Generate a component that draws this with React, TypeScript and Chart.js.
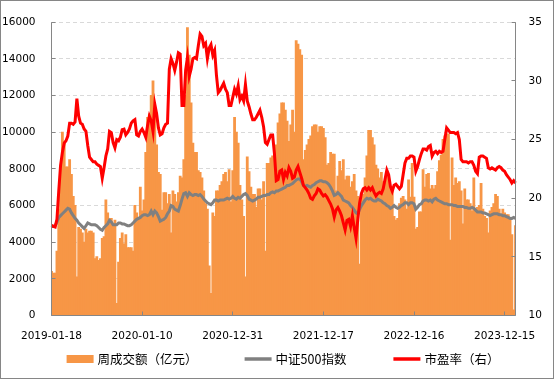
import React, { useEffect, useRef } from 'react';
import { Chart, registerables } from 'chart.js';

Chart.register(...registerables);

// x-axis tick labels, one every TICK_EVERY weekly categories
const TICK_LABELS = ['2019-01-18', '2020-01-10', '2020-12-31', '2021-12-17', '2022-12-16', '2023-12-15'];
const TICK_EVERY = 50;

const SERIES_NAMES = ['周成交额（亿元）', '中证500指数', '市盈率（右）'];

// 周成交额（亿元） — left axis
const VOLUME = [
  2400, 2300, 2300, 3500, 5800, 8000, 10000, 9500, 8100, 8100,
  8500, 7700, 6500, 6000, 2100, 4800, 4700, 4500, 4000, 4700,
  4500, 4600, 4600, 4500, 3100, 3200, 3000, 3100, 4200, 4300,
  6300, 5600, 5200, 5300, 5000, 5200, 650, 2900, 4200, 4500,
  3900, 4400, 3700, 3700, 3700, 3500, 6000, 5600, 5200, 7000,
  5700, 6300, 8900, 10800, 11000, 12000, 12800, 11000, 9300, 7800,
  7700, 5750, 6700, 6700, 6100, 6600, 4500, 6800, 6600, 6200,
  6700, 7600, 7500, 8500, 12000, 15700, 14200, 11600, 9400, 8900,
  8900, 7900, 7800, 7500, 6800, 6100, 5800, 2700, 1200, 5600,
  5400, 6800, 6800, 7100, 7300, 7700, 7800, 7300, 7950, 6200,
  7900, 10800, 10000, 9400, 7100, 6300, 5400, 2100, 8650, 7850,
  7000, 6600, 6600, 5900, 6900, 6900, 6300, 7300, 3500, 8300,
  8300, 8600, 8700, 9200, 9300, 10500, 11000, 11600, 11600, 11200,
  10600, 9500, 10400, 11200, 10000, 15000, 14800, 14500, 14200, 8500,
  9000, 9300, 9600, 9800, 10300, 10400, 10400, 10000, 10300, 10300,
  10200, 9700, 8200, 8300, 8900, 8800, 8800, 6800, 7600, 8400,
  7900, 8500, 7400, 7600, 7600, 7000, 7300, 7700, 6800, 6500,
  2800, 6500, 6600, 7500, 8700, 10100, 10100, 9700, 9300, 8200,
  8000, 7500, 7800, 7300, 7200, 7800, 7400, 7000, 6800, 5400,
  5200, 5300, 6100, 6400, 6500, 6300, 5800, 7400, 6450, 8300,
  6450, 4700, 4800, 5650, 5650, 7950, 7000, 7700, 7750, 6900,
  7100, 6900, 7100, 7850, 8450, 8750, 9600, 9800, 9800, 9900,
  4100, 8600, 7100, 7500, 7200, 7300, 6800, 5000, 6900, 6300,
  6300, 6100, 5700, 7500, 5800, 5900, 6000, 7200, 5800, 5400,
  5300, 4500, 5700, 5900, 6100, 6600, 6500, 5800, 5500, 5800,
  5600, 5500, 5500, 5200, 4400, 300, 4900,
];

// 中证500指数 — left axis
const CSI500 = [
  4850, 4850, 4900, 5100, 5350, 5450, 5550, 5650, 5750, 5850,
  5800, 5600, 5450, 5300, 5200, 5050, 4950, 4850, 4750, 4900,
  5050, 5000, 4950, 4950, 4950, 4900, 4800, 4700, 4650, 4800,
  4900, 5000, 5200, 5100, 4950, 4950, 4950, 5050, 5050, 5000,
  5000, 4950, 4900, 4900, 4950, 5050, 5150, 5250, 5300, 5350,
  5450, 5500, 5500, 5450, 5500, 5700, 5500, 5700, 5600, 5400,
  5150, 5200, 5250, 5350, 5550, 5700, 6000, 5950, 5800, 5750,
  5700, 6000, 6350, 6650, 6700, 6500, 6700, 6600, 6550, 6600,
  6600, 6550, 6600, 6500, 6350, 6250, 6150, 6100, 6050, 6150,
  6300, 6300, 6250, 6300, 6300, 6300, 6350, 6400, 6350, 6400,
  6500, 6400, 6350, 6450, 6400, 6500, 6600, 6650, 6550, 6350,
  6300, 6250, 6300, 6350, 6450, 6450, 6500, 6550, 6550, 6600,
  6600, 6700, 6750, 6700, 6800, 6800, 6850, 6900, 6950, 7000,
  7100, 7100, 7150, 7200, 7300, 7400, 7450, 7450, 7300, 7100,
  7050, 7100, 7050, 7000, 7100, 7150, 7250, 7300, 7350, 7350,
  7300, 7300, 7250, 7150, 7000, 6800, 6550, 6600, 6700, 6600,
  6500, 6300, 6250, 6200, 6150, 6000, 5900, 5750, 5600, 5550,
  5800, 6000, 6150, 6300, 6400, 6350, 6400, 6300, 6250, 6250,
  6350, 6300, 6250, 6150, 6100, 6000, 5950, 5850, 5900, 6000,
  5900, 5850, 5900, 6000, 6050, 6150, 6150, 6050, 6150, 6150,
  6100, 5800, 5900, 6050, 6100, 6250, 6300, 6300, 6250, 6300,
  6200, 6350, 6400, 6300, 6250, 6200, 6150, 6100, 6100, 6050,
  6050, 6050, 6000, 6000, 5950, 5950, 5950, 5950, 5900, 5900,
  5850, 5850, 5900, 5850, 5750, 5650, 5650, 5650, 5600, 5600,
  5550, 5500, 5450, 5500, 5550, 5550, 5550, 5500, 5500, 5450,
  5450, 5400, 5350, 5300, 5300, 5350, 5300,
];

// 市盈率（右） — right axis
const PE = [
  17.7, 17.6, 17.55, 18.2, 20.6, 22.8, 23.9, 24.7, 24.9, 25.3,
  26.4, 26.4, 26.3, 26.5, 28.5, 27.0, 26.4, 26.3, 25.9, 25.7,
  24.5, 23.5, 23.3, 23.1, 23.1, 22.9, 22.8, 22.7, 21.7, 22.6,
  23.6, 24.2, 25.7, 25.6, 24.75, 24.3, 25.0, 24.9, 25.2, 25.85,
  25.9, 25.4, 25.6, 25.9, 26.4, 26.6, 26.7, 25.4, 25.3, 25.7,
  25.9, 25.6, 25.2, 26.2, 27.0, 26.6, 25.7, 28.0, 27.2, 26.0,
  25.4, 25.5, 26.0, 26.3, 26.4, 31.0, 31.9, 31.5, 30.9, 31.6,
  32.4, 32.3, 27.9, 27.9, 30.9, 32.0, 30.4, 31.0, 31.9, 32.0,
  31.9, 33.0, 34.0, 33.8, 33.0, 33.2, 31.9, 32.8, 33.1, 32.2,
  32.6, 30.5, 29.0, 29.2, 29.5, 29.8, 29.3, 29.0, 27.9, 27.9,
  28.6, 29.3, 28.9, 29.6, 28.4, 28.7, 28.3, 29.7, 28.3, 27.8,
  27.2, 26.7, 26.7, 26.9, 27.2, 27.5, 26.9, 26.1, 24.75, 24.6,
  25.0, 25.4, 25.4, 23.8, 21.5, 21.6, 22.3, 22.4, 21.6, 22.2,
  21.9, 22.6, 22.3, 21.7, 21.8, 22.4, 22.7, 22.2, 21.7, 21.1,
  20.9, 20.7, 20.4, 20.0, 19.9, 20.2, 20.4, 20.8, 20.7, 20.4,
  20.2, 20.3, 20.1, 19.8, 19.5, 19.1, 18.4, 19.0, 19.2, 18.9,
  18.5, 17.9, 17.3, 18.1, 18.2, 17.6, 18.5, 17.5, 16.6, 18.2,
  19.6, 20.4, 20.8, 20.9, 20.7, 20.9, 20.7, 20.9, 20.5, 20.2,
  20.4, 20.5, 20.4, 20.8, 21.6, 22.4, 22.0, 21.0, 20.6, 21.1,
  21.2, 21.0, 20.8, 21.0, 22.0, 23.0, 23.4, 23.4, 23.6, 23.6,
  23.5, 22.3, 22.7, 23.3, 23.8, 24.2, 24.2, 24.1, 24.4, 24.5,
  23.6, 23.9, 24.0, 23.8, 24.0, 23.9, 24.0, 25.0, 26.0, 25.8,
  25.6, 25.6, 25.6, 25.5, 25.6, 25.0, 23.3, 23.1, 23.1, 23.1,
  23.0, 23.1, 23.1, 22.8, 22.3, 22.1, 23.5, 23.6, 23.6, 23.5,
  23.4, 22.6, 22.5, 22.6, 22.5, 22.4, 22.6, 22.7, 22.6, 22.4,
  22.3, 22.0, 21.8, 21.6, 21.3, 21.5, 21.3,
];

const CATEGORIES = VOLUME.map((_, i) => i);

const ORANGE = '#F79646';
const GRAY = '#808080';
const RED = '#FF0000';
const AXIS_COLOR = '#868686';
const GRID_COLOR = '#D9D9D9';
const TICK_FONT = { family: '"DejaVu Sans", Verdana, sans-serif', size: 10.5 };
const LEGEND_FONT = '12.5px "Noto Sans CJK SC", sans-serif';

const axesPlugin = {
  id: 'excelAxes',
  afterDatasetsDraw(chart: any) {
    const { ctx, chartArea, scales } = chart;
    const L = Math.floor(chartArea.left) + 0.5;
    const R = Math.floor(chartArea.right) + 0.5;
    const T = chartArea.top;
    const B = Math.floor(chartArea.bottom) + 0.5;
    ctx.save();
    ctx.strokeStyle = AXIS_COLOR;
    ctx.lineWidth = 1;
    ctx.beginPath();
    ctx.moveTo(L, T); ctx.lineTo(L, B);
    ctx.moveTo(R, T); ctx.lineTo(R, B);
    ctx.moveTo(L, B); ctx.lineTo(R, B);
    scales.y.ticks.forEach((t: any) => {
      const yy = Math.floor(scales.y.getPixelForValue(t.value)) + 0.5;
      ctx.moveTo(L, yy); ctx.lineTo(L + 4, yy);
    });
    scales.y1.ticks.forEach((t: any) => {
      const yy = Math.floor(scales.y1.getPixelForValue(t.value)) + 0.5;
      ctx.moveTo(R - 4, yy); ctx.lineTo(R, yy);
    });
    scales.x.ticks.forEach((t: any) => {
      const xx = Math.floor(scales.x.getPixelForValue(t.value)) + 0.5;
      ctx.moveTo(xx, B - 4); ctx.lineTo(xx, B);
    });
    ctx.stroke();
    ctx.restore();
  },
  afterDraw(chart: any) {
    const { ctx, width, height } = chart;
    ctx.save();
    ctx.strokeStyle = AXIS_COLOR;
    ctx.lineWidth = 1;
    ctx.strokeRect(0.5, 0.5, width - 1, height - 1);
    ctx.restore();
  },
};

const legendPlugin = {
  id: 'excelLegend',
  afterDraw(chart: any) {
    const { ctx, width } = chart;
    const ds = chart.data.datasets;
    const box = 27;
    const gap = 4;
    const spacing = 47;
    ctx.save();
    ctx.font = LEGEND_FONT;
    const widths = ds.map((d: any) => box + gap + ctx.measureText(d.label).width);
    const total = widths.reduce((a: number, b: number) => a + b, 0) + spacing * (ds.length - 1);
    let x = width / 2 + 6 - total / 2;
    const y = 359;
    ds.forEach((d: any, i: number) => {
      if (d.type === 'bar') {
        ctx.fillStyle = d.backgroundColor;
        ctx.fillRect(x, y - 4, box, 8);
      } else {
        ctx.strokeStyle = d.borderColor;
        ctx.lineWidth = 3.5;
        ctx.beginPath();
        ctx.moveTo(x, y);
        ctx.lineTo(x + box, y);
        ctx.stroke();
      }
      ctx.fillStyle = '#000';
      ctx.textBaseline = 'middle';
      ctx.textAlign = 'left';
      ctx.fillText(d.label, x + box + gap, y);
      x += widths[i] + spacing;
    });
    ctx.restore();
  },
};

export default function App() {
  const canvasRef = useRef<HTMLCanvasElement>(null);

  useEffect(() => {
    const canvas = canvasRef.current;
    if (!canvas) return;
    const chart = new Chart(canvas, {
      type: 'bar',
      data: {
        labels: CATEGORIES,
        datasets: [
          {
            type: 'bar',
            label: SERIES_NAMES[0],
            data: VOLUME,
            backgroundColor: ORANGE,
            borderWidth: 0,
            barPercentage: 1,
            categoryPercentage: 1,
            inflateAmount: 0.5,
            yAxisID: 'y',
            order: 3,
          },
          {
            type: 'line',
            label: SERIES_NAMES[1],
            data: CSI500,
            borderColor: GRAY,
            backgroundColor: GRAY,
            borderWidth: 3,
            pointRadius: 0,
            tension: 0,
            yAxisID: 'y',
            order: 2,
          },
          {
            type: 'line',
            label: SERIES_NAMES[2],
            data: PE,
            borderColor: RED,
            backgroundColor: RED,
            borderWidth: 3,
            pointRadius: 0,
            tension: 0,
            yAxisID: 'y1',
            order: 1,
          },
        ] as any,
      },
      options: {
        responsive: false,
        animation: false,
        devicePixelRatio: 1,
        layout: { padding: { top: 12, left: 0, right: 0, bottom: 0 } },
        plugins: {
          legend: { display: false },
          tooltip: { enabled: false },
        },
        scales: {
          x: {
            type: 'category',
            offset: false,
            grid: { display: false, drawTicks: false },
            border: { display: false },
            afterBuildTicks: (s: any) => {
              s.ticks = s.ticks.filter((t: any) => t.value % TICK_EVERY === 0);
            },
            afterFit: (s: any) => { s.height = 63.5; },
            ticks: {
              autoSkip: false,
              maxRotation: 0,
              minRotation: 0,
              padding: 14,
              color: '#000',
              font: TICK_FONT,
              callback: (v: any) => TICK_LABELS[Number(v) / TICK_EVERY] ?? '',
            },
          },
          y: {
            position: 'left',
            min: 0,
            max: 16000,
            ticks: { stepSize: 2000, padding: 16, color: '#000', font: TICK_FONT, callback: (v: any) => String(v) },
            grid: { color: GRID_COLOR, drawTicks: false, lineWidth: 1 },
            border: { display: false, dash: [4, 3] },
            afterFit: (s: any) => { s.width = 51.5; },
          },
          y1: {
            position: 'right',
            min: 10,
            max: 35,
            ticks: { stepSize: 5, padding: 13, color: '#000', font: TICK_FONT, callback: (v: any) => String(v) },
            grid: { display: false, drawTicks: false },
            border: { display: false },
            afterFit: (s: any) => { s.width = 38.5; },
          },
        },
      } as any,
      plugins: [axesPlugin, legendPlugin],
    });
    return () => chart.destroy();
  }, []);

  return (
    <div style={{ position: 'absolute', left: 0, top: 0, width: 554, height: 379, background: '#fff' }}>
      <canvas ref={canvasRef} width={554} height={379} style={{ display: 'block' }} />
    </div>
  );
}
